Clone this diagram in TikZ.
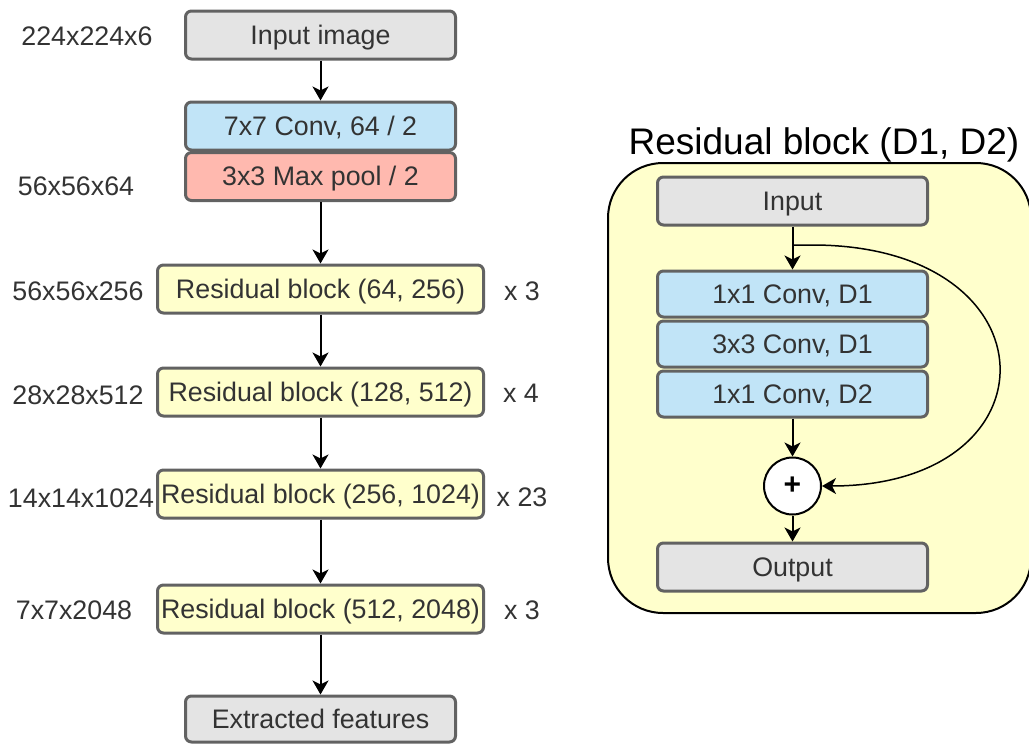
\documentclass[tikz,border=0pt]{standalone}
\usepackage{fontspec}
\setmainfont{Liberation Sans}
\usetikzlibrary{arrows.meta}
\definecolor{boxgray}{HTML}{E4E4E4}
\definecolor{boxline}{HTML}{626262}
\definecolor{boxblue}{HTML}{C1E4F7}
\definecolor{boxred}{HTML}{FFB9AF}
\definecolor{boxyellow}{HTML}{FFFFCC}
\definecolor{txt}{HTML}{333333}
\tikzset{
  blk/.style={draw=boxline, line width=3pt, rounded corners=6pt, text=txt,
    inner sep=0pt, font=\fontsize{26.8}{30}\selectfont, text height=18.4pt, text depth=0pt},
  narrow/.style={blk, minimum width=270pt, minimum height=48pt},
  wide/.style={blk, fill=boxyellow, minimum width=326pt, minimum height=48pt},
  inner/.style={blk, minimum width=270pt, minimum height=46pt},
  lbl/.style={text=txt, inner sep=0pt, font=\fontsize{26.8}{30}\selectfont, text height=18.4pt, text depth=0pt},
  arr/.style={line width=2pt, -{Stealth[length=14pt,width=16pt,inset=4pt]}},
}
\begin{document}
\begin{tikzpicture}[x=1pt,y=-1pt]
\useasboundingbox (0,0) rectangle (1029,744);
% left column
\node[narrow, fill=boxgray] (in) at (320.5,35) {Input image};
\node[narrow, fill=boxblue] (conv) at (320.5,126) {7x7 Conv, 64 / 2};
\node[narrow, fill=boxred] (pool) at (320.5,176.5) {3x3 Max pool / 2};
\node[wide] (r1) at (320.5,289) {Residual block (64, 256)};
\node[wide] (r2) at (320.5,392) {Residual block (128, 512)};
\node[wide] (r3) at (320.5,494) {Residual block (256, 1024)};
\node[wide] (r4) at (320.5,609) {Residual block (512, 2048)};
\node[narrow, fill=boxgray, minimum height=46pt] (feat) at (320.5,719) {Extracted features};

\node[lbl] (s0) at (87,36) {224x224x6};
\node[lbl] (s1) at (76,186) {56x56x64};
\node[lbl] (s2) at (78,291) {56x56x256};
\node[lbl] (s3) at (78,395) {28x28x512};
\node[lbl] (s4) at (81,498) {14x14x1024};
\node[lbl] (s5) at (74,610) {7x7x2048};

\node[lbl] (m1) at (522,291) {x 3};
\node[lbl] (m2) at (521,393) {x 4};
\node[lbl] (m3) at (522,497) {x 23};
\node[lbl] (m4) at (522,610) {x 3};

\draw[arr] (in) -- (conv);
\draw[arr] (pool) -- (r1);
\draw[arr] (r1) -- (r2);
\draw[arr] (r2) -- (r3);
\draw[arr] (r3) -- (r4);
\draw[arr] (r4) -- (feat);

% right panel
\node[font=\fontsize{37}{40}\selectfont, inner sep=0pt, text height=25.5pt, text depth=0pt] (title) at (824,142) {Residual block (D1, D2)};
\draw[line width=2pt, fill=boxyellow, rounded corners=55pt] (608,163) rectangle (1031,613);
\node[inner, fill=boxgray, minimum height=48pt] (rin) at (792.5,201) {Input};
\node[inner, fill=boxblue] (c1) at (792.5,294) {1x1 Conv, D1};
\node[inner, fill=boxblue] (c2) at (792.5,344) {3x3 Conv, D1};
\node[inner, fill=boxblue] (c3) at (792.5,394) {1x1 Conv, D2};
\node[draw=black, line width=2pt, fill=white, circle, minimum size=57pt, inner sep=0pt,
  font=\fontsize{30}{30}\selectfont\bfseries] (plus) at (792.5,486) {+};
\node[inner, fill=boxgray, minimum height=48pt] (rout) at (792.5,567) {Output};

\coordinate (split) at (792.5,245);
\draw[arr] (rin) -- (c1);
\draw[arr] (c3) -- (plus);
\draw[arr] (plus) -- (rout);
\draw[line width=1.5pt, -{Stealth[length=14pt,width=16pt,inset=4pt]}]
  (split) -- (815,245) .. controls (1058,247) and (1060,486) .. (plus.east);
\end{tikzpicture}
\end{document}
